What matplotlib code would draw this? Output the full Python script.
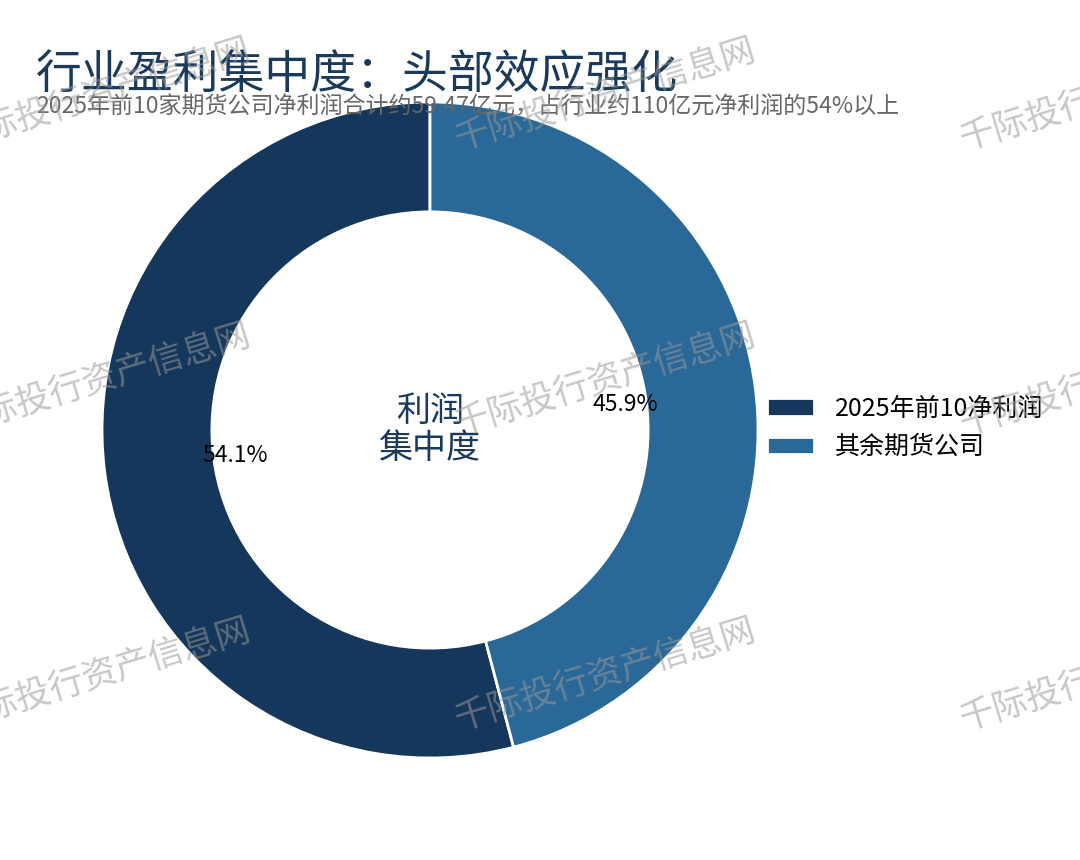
import matplotlib
matplotlib.use("Agg")
import matplotlib.pyplot as plt

plt.rcParams['font.family'] = ['Noto Sans CJK SC', 'DejaVu Sans']

labels = ["2025年前10净利润", "其余期货公司"]
values = [54.1, 45.9]
colors = ["#15375b", "#2a6898"]

title = "行业盈利集中度：头部效应强化"
subtitle = "2025年前10家期货公司净利润合计约59.47亿元，占行业约110亿元净利润的54%以上"
center_text = "利润\n集中度"
watermark = "千际投行资产信息网"

fig = plt.figure(figsize=(10.8, 8.6), dpi=100)
ax = fig.add_axes([102 / 1080, 102 / 860, 656 / 1080, 656 / 860])

wedges, texts, autotexts = ax.pie(
    values, colors=colors, startangle=90, counterclock=True,
    autopct="%.1f%%", pctdistance=0.6, radius=1,
    wedgeprops=dict(width=0.335, edgecolor="white", linewidth=2),
    textprops=dict(fontsize=16.5, color="black"),
)
ax.set_xlim(-1, 1)
ax.set_ylim(-1, 1)
ax.text(0, 0, center_text, ha="center", va="center", fontsize=24.5,
        color="#1a3a5c", linespacing=1.1)

fig.text(36 / 1080, 1 - 75 / 860, title, fontsize=33, color="#1a3a5c",
         ha="left", va="center")
fig.text(36 / 1080, 1 - 107 / 860, subtitle, fontsize=16.6, color="#666666",
         ha="left", va="center")

fig.legend(wedges, labels, loc="center left",
           bbox_to_anchor=(744 / 1080, 1 - 428 / 860),
           frameon=False, fontsize=18, handlelength=1.9, handleheight=0.7,
           labelspacing=0.5, handletextpad=0.85)

# watermark grid
for wx in [100, 605, 1110]:
    for wy in [95, 380, 675]:
        fig.text(wx / 1080, 1 - wy / 860, watermark, fontsize=25,
                 color="#999999", alpha=0.55, rotation=17,
                 ha="center", va="center", zorder=10)

fig.savefig("out.png", dpi=100, facecolor="white")
